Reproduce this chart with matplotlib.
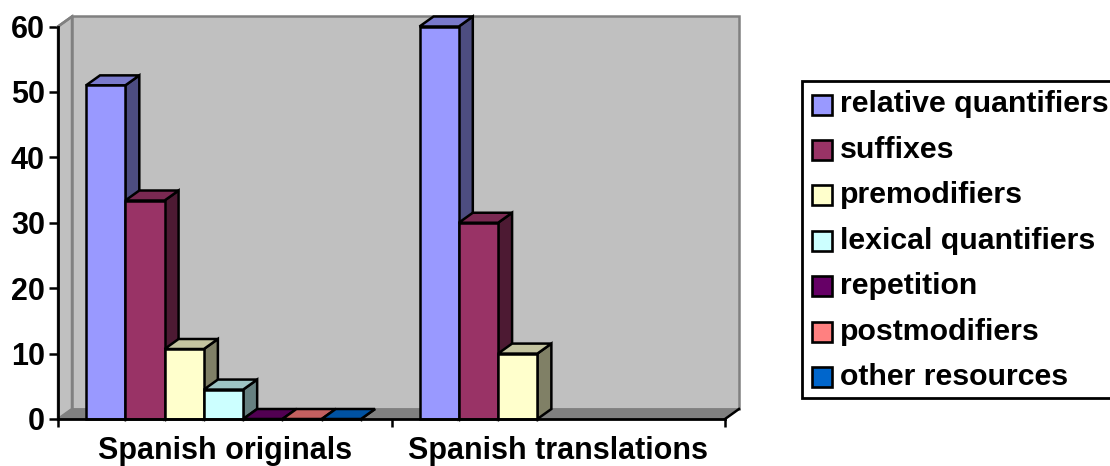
import matplotlib
matplotlib.use('Agg')
import matplotlib.pyplot as plt
from matplotlib.patches import Polygon, Rectangle

plt.rcParams['font.family'] = ['Liberation Sans', 'DejaVu Sans']
plt.rcParams['font.weight'] = 'bold'

categories = ['Spanish originals', 'Spanish translations']
series = ['relative quantifiers', 'suffixes', 'premodifiers', 'lexical quantifiers',
          'repetition', 'postmodifiers', 'other resources']
originals = [51, 33.4, 10.7, 4.5, 0, 0, 0]
translations = [60, 30, 10, None, None, None, None]
y_ticks = [0, 10, 20, 30, 40, 50, 60]

face_colors = ['#9999FF', '#993366', '#FFFFCC', '#CCFFFF', '#660066', '#FF8080', '#0066CC']
top_colors = ['#7A7ACC', '#7A2952', '#C4C4A0', '#9EC4C4', '#520052', '#C46060', '#0052A3']
side_colors = ['#4D4D80', '#4D1A33', '#808066', '#668080', '#330033', '#804040', '#003366']

W, H = 1110, 466
LEFT, RIGHT, TOP, BOTTOM = 58, 725, 26.5, 419
DEPTH_X, DEPTH_Y = 14, 10
BAR_W = 0.1178
BAR_START = 0.084
EDGE = 1.8


def px_box(x0, y0, x1, y1):
    return [x0 / W, 1 - y1 / H, (x1 - x0) / W, (y1 - y0) / H]


fig = plt.figure(figsize=(W / 100, H / 100), dpi=100, facecolor='white')
ax = fig.add_axes(px_box(LEFT, TOP, RIGHT, BOTTOM))
ax.set_xlim(0, 2)
ax.set_ylim(0, 60)
ax.patch.set_visible(False)

# depth of the fake 3D box, in data units
dx = DEPTH_X * 2 / (RIGHT - LEFT)
dy = DEPTH_Y * 60 / (BOTTOM - TOP)


def poly(pts, fc, ec, lw, z):
    ax.add_patch(Polygon(pts, closed=True, facecolor=fc, edgecolor=ec, linewidth=lw,
                         joinstyle='miter', clip_on=False, zorder=z))


# walls and floor
poly([(0, 0), (dx, dy), (dx, 60 + dy), (0, 60)], '#C0C0C0', '#808080', 1.8, 1)
poly([(dx, dy), (2 + dx, dy), (2 + dx, 60 + dy), (dx, 60 + dy)], '#C0C0C0', '#808080', 1.8, 1)
poly([(0, 0), (2, 0), (2 + dx, dy), (dx, dy)], '#808080', '#808080', 1.0, 2)


def draw_bar(x, val, i, z):
    poly([(x + BAR_W, 0), (x + BAR_W + dx, dy), (x + BAR_W + dx, val + dy), (x + BAR_W, val)],
         side_colors[i], 'black', EDGE, z)
    poly([(x, val), (x + BAR_W, val), (x + BAR_W + dx, val + dy), (x + dx, val + dy)],
         top_colors[i], 'black', EDGE, z)
    ax.bar(x, val, width=BAR_W, align='edge', color=face_colors[i], edgecolor='black',
           linewidth=EDGE, clip_on=False, zorder=z)


minor_x = []
for g, vals in enumerate([originals, translations]):
    for i, v in enumerate(vals):
        if v is not None:
            x = g + BAR_START + i * BAR_W
            draw_bar(x, v, i, 3 + g * 10 + i)
            minor_x += [x + BAR_W]

# axes
for s in ['top', 'right']:
    ax.spines[s].set_visible(False)
for s in ['left', 'bottom']:
    ax.spines[s].set_linewidth(2.0)
    ax.spines[s].set_zorder(40)
ax.set_yticks(y_ticks)
ax.set_xticks([0, 1, 2])
ax.set_xticks(minor_x, minor=True)
ax.set_xticklabels([])
ax.tick_params(axis='y', length=6.5, width=1.8, pad=3, labelsize=22)
ax.tick_params(axis='x', length=6, width=1.8)
ax.tick_params(axis='x', which='minor', length=1.5, width=1.0)
for g, name in enumerate(categories):
    ax.annotate(name, (g + 0.5, 0), xytext=(0, -40), textcoords='offset pixels',
                ha='center', va='baseline', fontsize=22, annotation_clip=False)
# stub joining the axis end to the floor
ax.plot([2, 2 + dx], [0, dy], color='black', lw=1.8, clip_on=False, zorder=41)
ax.plot([0, dx], [60, 60 + dy], color='#808080', lw=1.8, clip_on=False, zorder=2)

# legend box runs past the right edge of the figure
legend_ax = fig.add_axes([0, 0, 1, 1])
legend_ax.set_xlim(0, W)
legend_ax.set_ylim(H, 0)
legend_ax.axis('off')
legend_ax.add_patch(Rectangle((802, 81), 340, 317, facecolor='white', edgecolor='black', linewidth=2.0))
for i, name in enumerate(series):
    yc = 104.5 + i * 45.4
    legend_ax.add_patch(Rectangle((812, yc - 10), 20, 20, facecolor=face_colors[i],
                                  edgecolor='black', linewidth=1.9))
    legend_ax.text(840, yc, name, ha='left', va='center', fontsize=21.8)

fig.savefig('out.png', dpi=100)
